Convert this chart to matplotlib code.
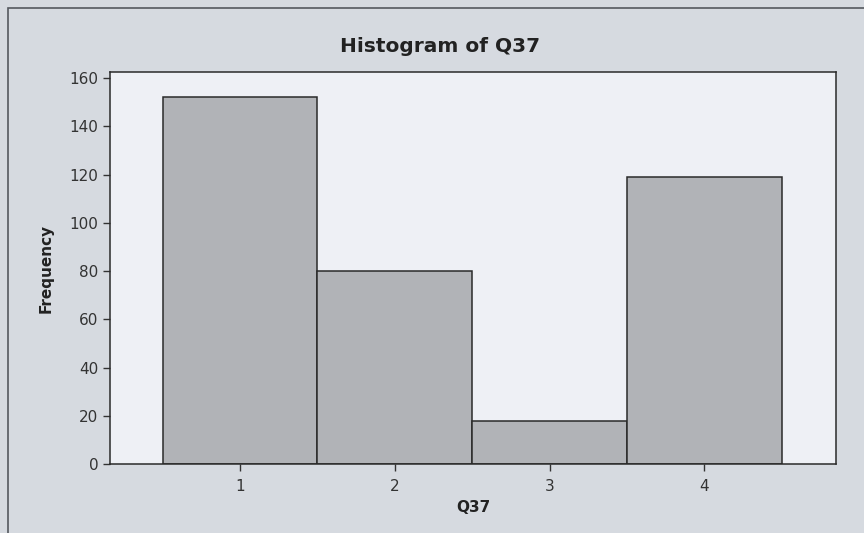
import matplotlib
matplotlib.use('Agg')
import matplotlib.pyplot as plt
from matplotlib.patches import Rectangle

# Histogram of Q37 (Minitab style)
categories = [1, 2, 3, 4]
counts = [152, 80, 18, 119]
yticks = [0, 20, 40, 60, 80, 100, 120, 140, 160]

plt.rcParams['font.family'] = ['DejaVu Sans']

fig = plt.figure(figsize=(8.64, 5.33), dpi=100)
fig.patch.set_facecolor('#d6dae0')
# outer frame of the graph window
fig.patches.append(Rectangle((8/864, -0.1), 1.1, 1 - 8/533 + 0.1, transform=fig.transFigure,
                             fill=False, edgecolor='#55595f', linewidth=1.2))

ax = fig.add_axes([110/864, 69/533, 726/864, 392/533])
ax.set_facecolor('#eef0f5')
ax.bar(categories, counts, width=1.0, color='#b1b3b7', edgecolor='#2a2a2a', linewidth=1.1)

ax.set_xlim(0.16, 4.85)
ax.set_ylim(0, 162.5)
ax.set_xticks(categories)
ax.set_yticks(yticks)
ax.tick_params(axis='both', labelsize=11, colors='#333333', length=5, width=1)
ax.tick_params(axis='x', pad=6)
for s in ax.spines.values():
    s.set_color('#2a2a2a')
    s.set_linewidth(1.1)

fig.text(440/864, 1 - 46/533, 'Histogram of Q37', fontsize=14.5, fontweight='bold',
         color='#222222', ha='center', va='center')
ax.set_xlabel('Q37', fontsize=11, fontweight='bold', color='#222222', labelpad=4)
ax.set_ylabel('Frequency', fontsize=11, fontweight='bold', color='#222222', labelpad=11)

plt.savefig('out.png', dpi=100, facecolor=fig.get_facecolor())
